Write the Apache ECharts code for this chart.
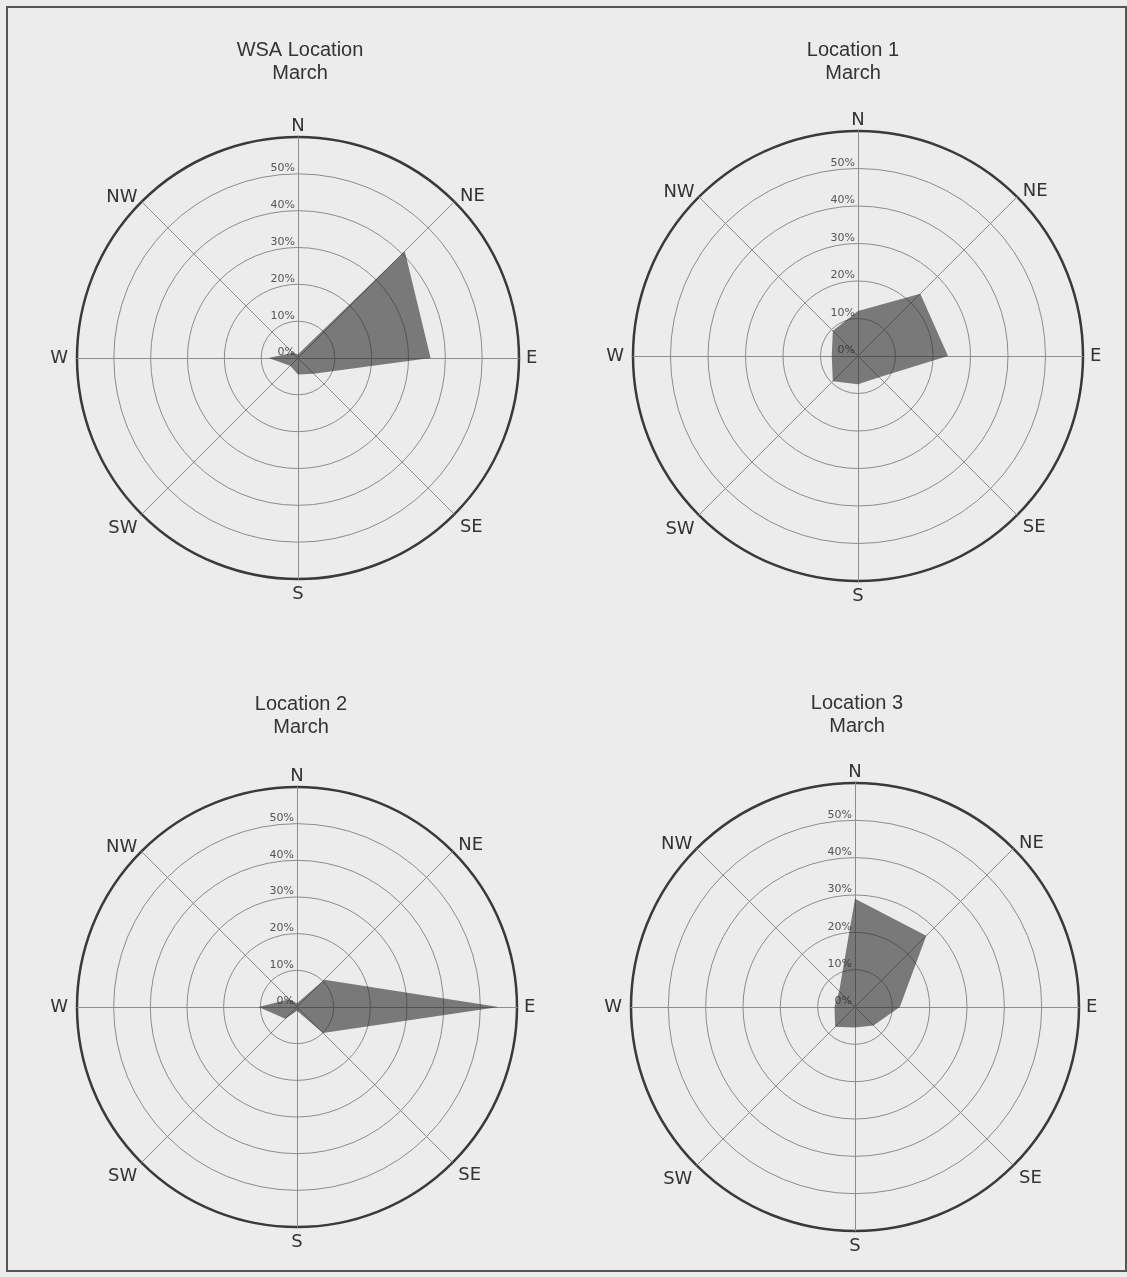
<!DOCTYPE html>
<html>
<head>
<meta charset="utf-8">
<script src="https://cdn.jsdelivr.net/npm/echarts@6/dist/echarts.min.js"></script>
<style>
html,body{margin:0;padding:0;background:#ececec;}
#chart{width:1127px;height:1277px;}
</style>
</head>
<body>
<div id="chart"></div>
<script>
// Compass directions, clockwise from North
const directions = ['N', 'NE', 'E', 'SE', 'S', 'SW', 'W', 'NW'];
// Frequency (%) of wind from each direction, March
const wsaLocation = [1, 41, 36, 6, 4.5, 3, 8, 2];
const location1 = [12, 23.5, 24, 8, 7.5, 9.5, 7, 9.5];
const location2 = [1, 10.5, 55, 10, 1, 4.5, 10.5, 3];
const location3 = [29, 27, 12, 7, 5.5, 7.5, 5.5, 6];
const titles = ['WSA Location\nMarch', 'Location 1\nMarch', 'Location 2\nMarch', 'Location 3\nMarch'];
const ringTicks = ['0%', '10%', '20%', '30%', '40%', '50%'];
const rMax = 60;

const panels = [
  {data: wsaLocation, center: [298, 358], radius: 221, titleX: 295, titleY: 33.5},
  {data: location1,   center: [858, 356], radius: 225, titleX: 848, titleY: 33.5},
  {data: location2,   center: [297, 1007], radius: 220, titleX: 296, titleY: 687.5},
  {data: location3,   center: [855, 1007], radius: 224, titleX: 852, titleY: 686.5}
];

// gap between outer ring and each direction name
const nameGaps = {N: 2, NE: 8, E: 7, SE: 8, S: 6, SW: 6, W: 9, NW: 6};
const nameFont = {color: '#333', fontFamily: 'DejaVu Sans', fontSize: 18};

// ECharts radar places indicators counter-clockwise; reorder compass list
const order = [0, 7, 6, 5, 4, 3, 2, 1];

const radars = [];
const series = [];
const title = [];
panels.forEach(function (p, i) {
  title.push({
    text: titles[i], left: p.titleX, top: p.titleY, textAlign: 'center',
    textStyle: {fontFamily: 'Liberation Sans', fontSize: 20, fontWeight: 'normal', color: '#333', lineHeight: 23}
  });
  // main grid radar
  radars.push({
    center: p.center, radius: p.radius, shape: 'circle', splitNumber: 6, startAngle: 90,
    indicator: order.map(function (k) {
      const d = directions[k];
      const ind = {name: d, min: 0, max: rMax, nameGap: nameGaps[d]};
      if (k === 0) {
        ind.axisLabel = {
          show: true, fontFamily: 'DejaVu Sans', fontSize: 11, color: '#555',
          verticalAlign: 'bottom', margin: 3,
          formatter: function (v) { const idx = Math.round(v / 10); return idx < ringTicks.length ? ringTicks[idx] : ''; }
        };
      }
      return ind;
    }),
    axisName: Object.assign({
      formatter: function (name) {
        if (name === 'SE') return '{se|SE}';
        if (name === 'SW') return '{sw|SW}';
        return name;
      },
      rich: {
        se: Object.assign({padding: [14, 0, 0, 0]}, nameFont),
        sw: Object.assign({padding: [20, 0, 0, 0]}, nameFont)
      }
    }, nameFont),
    axisLine: {show: true, lineStyle: {color: '#8c8c8c', width: 1}},
    axisTick: {show: false},
    splitLine: {show: true, lineStyle: {color: '#8c8c8c', width: 1}},
    splitArea: {show: false}
  });
  // outer thick ring
  radars.push({
    center: p.center, radius: p.radius, shape: 'circle', splitNumber: 1, startAngle: 90,
    indicator: order.map(function (k) { return {name: '', min: 0, max: rMax}; }),
    axisName: {show: false},
    axisLine: {show: false},
    axisTick: {show: false},
    axisLabel: {show: false},
    splitLine: {show: true, lineStyle: {color: '#3a3a3a', width: 2.5}},
    splitArea: {show: false}
  });
  series.push({
    type: 'radar', radarIndex: i * 2, symbol: 'none', silent: true,
    lineStyle: {width: 0, opacity: 0},
    areaStyle: {color: 'rgba(45,45,45,0.6)', opacity: 1},
    data: [{value: order.map(function (k) { return p.data[k]; })}]
  });
});

const chart = echarts.init(document.getElementById('chart'), null, {renderer: 'canvas'});
chart.setOption({
  backgroundColor: '#ececec',
  animation: false,
  title: title,
  radar: radars,
  series: series,
  graphic: [{
    type: 'rect', silent: true,
    shape: {x: 7, y: 7, width: 1119, height: 1264},
    style: {fill: 'none', stroke: '#555', lineWidth: 2}
  }]
});
</script>
</body>
</html>
